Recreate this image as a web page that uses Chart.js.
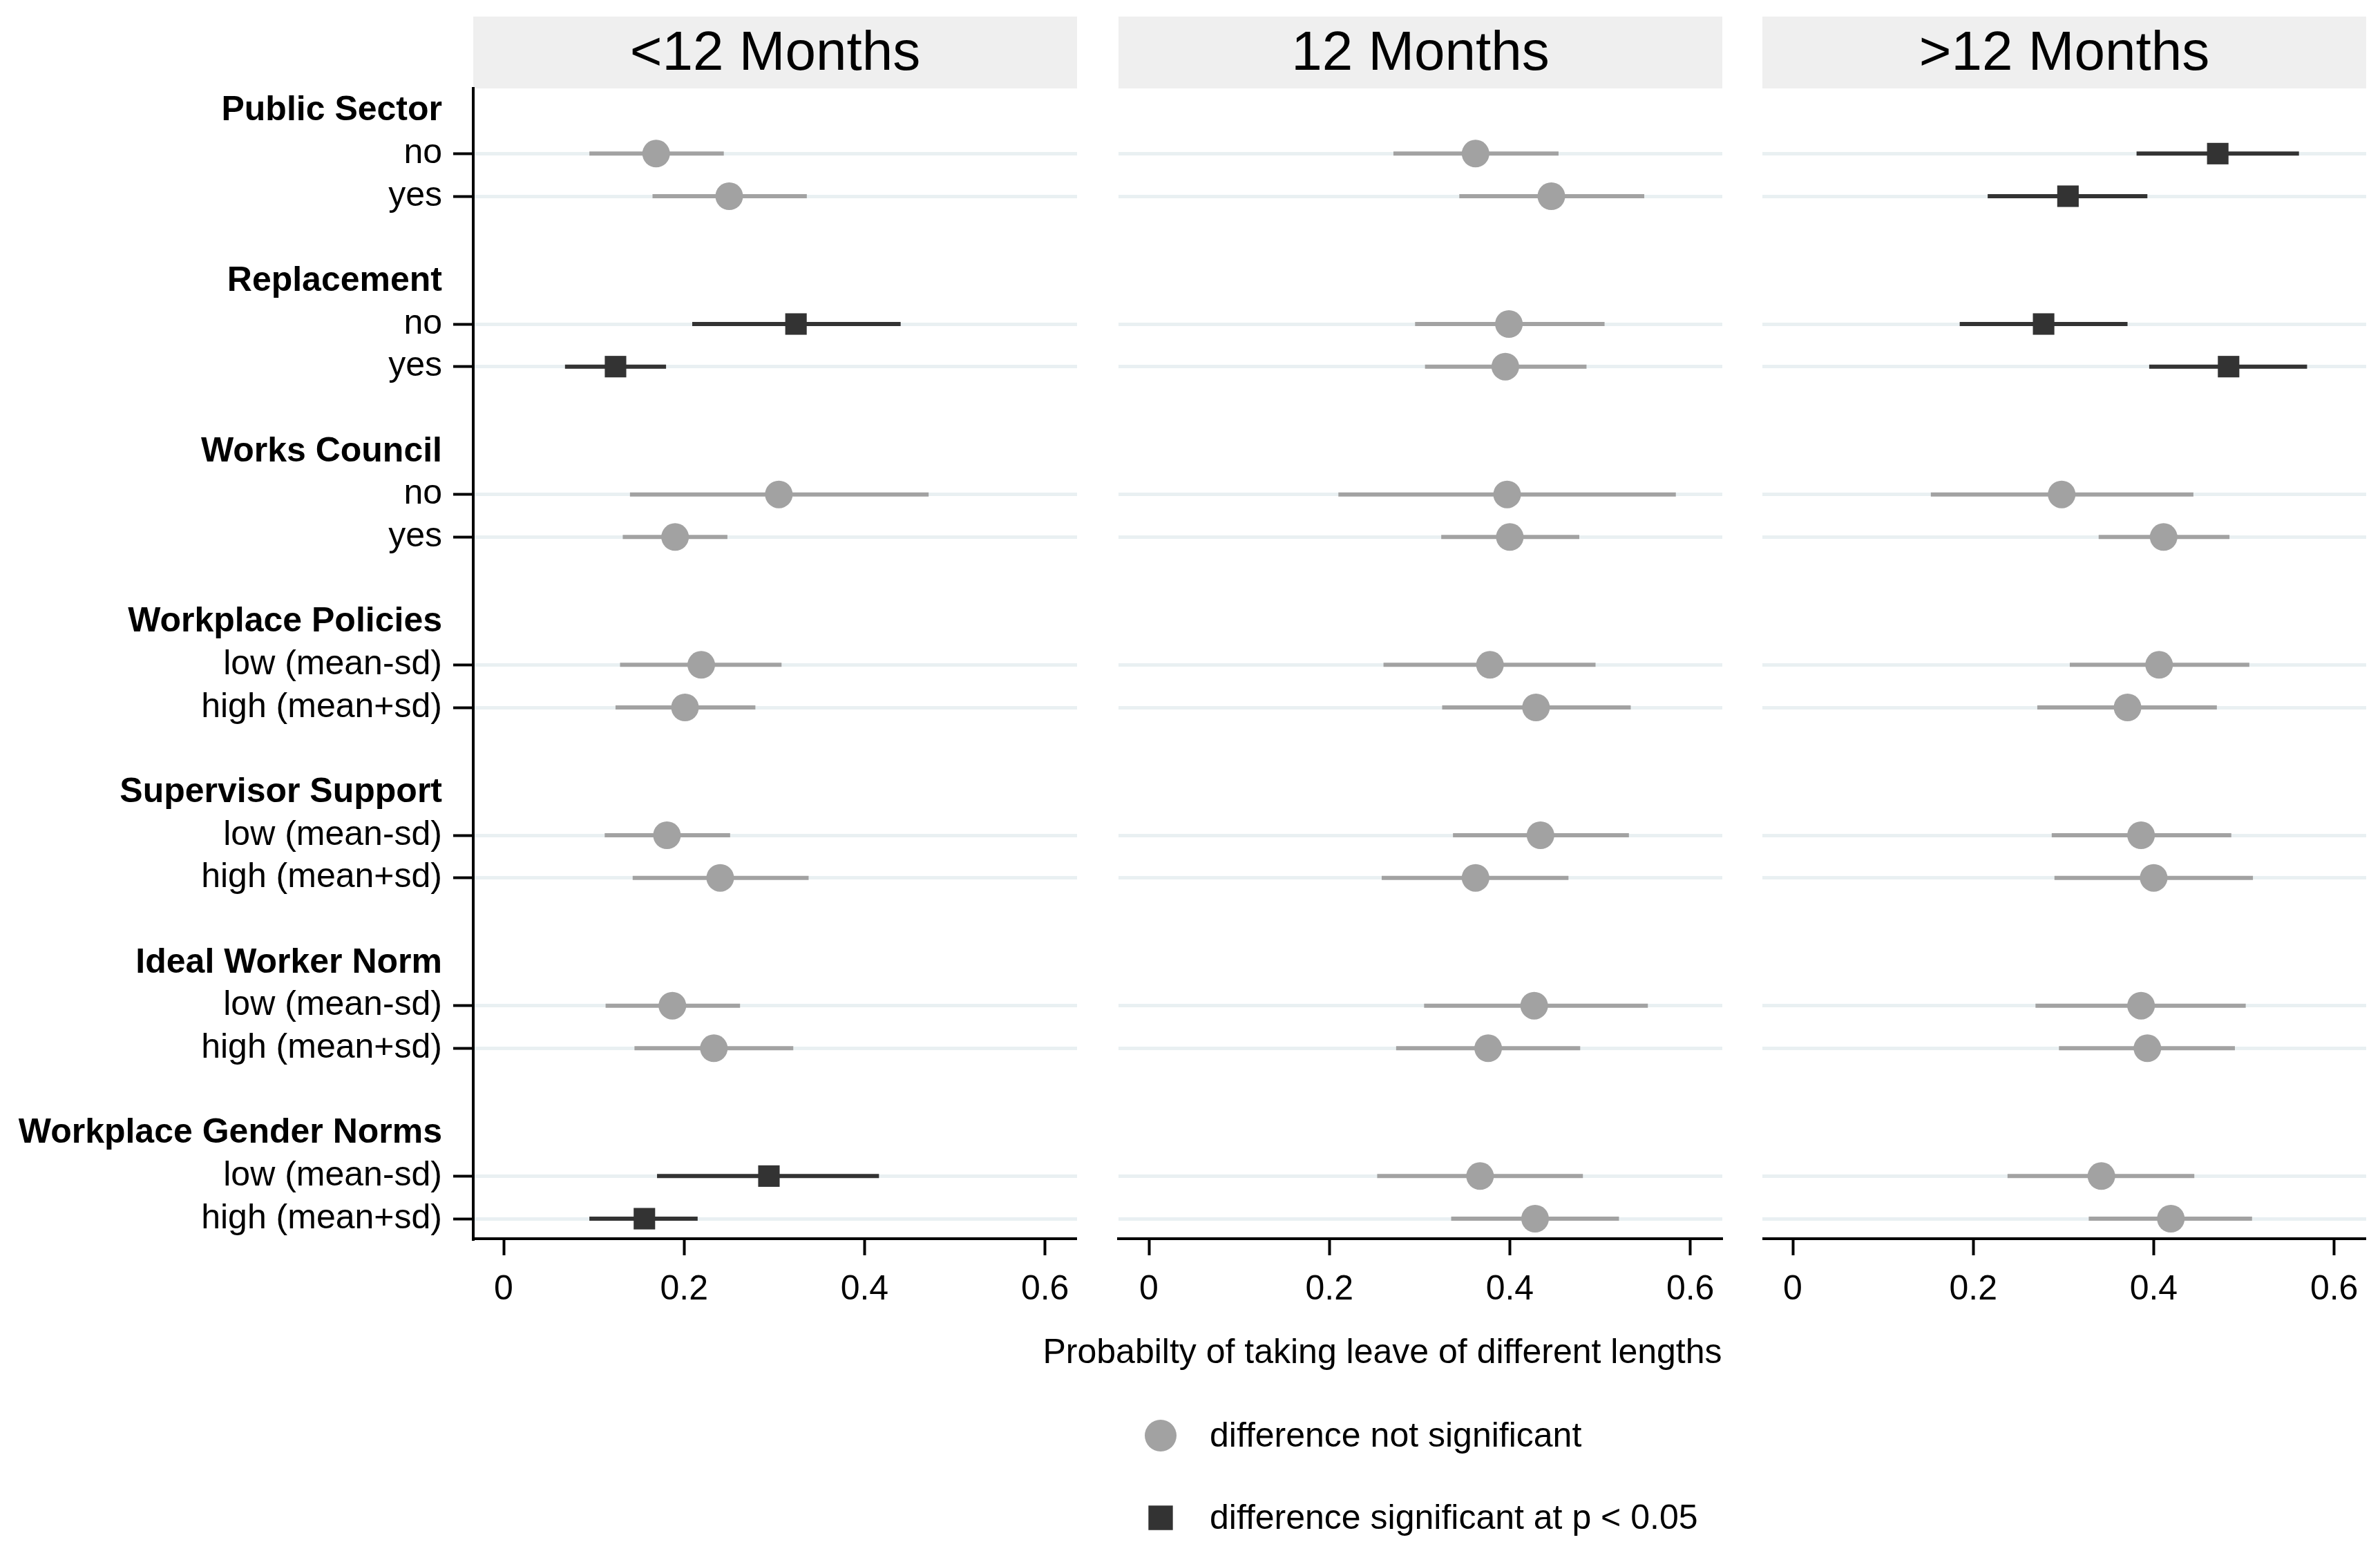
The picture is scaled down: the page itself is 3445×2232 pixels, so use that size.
<!DOCTYPE html>
<html>
<head>
<meta charset="utf-8">
<title>Probability of taking leave of different lengths</title>
<script src="https://cdn.jsdelivr.net/npm/chart.js@4.4.1/dist/chart.umd.min.js"></script>
<style>
  html, body { margin: 0; padding: 0; background: #fff; }
  #wrap { position: relative; width: 3445px; height: 2232px; overflow: hidden; }
  #wrap canvas { position: absolute; top: 0; }
</style>
</head>
<body>
<div id="wrap">
  <canvas id="panel0" width="1559" height="2232" style="left:0px"></canvas>
  <canvas id="panel1" width="1300" height="2232" style="left:1400px"></canvas>
  <canvas id="panel2" width="874" height="2232" style="left:2551px"></canvas>
</div>
<script>
// ---- data ----
const panelTitles = ['<12 Months', '12 Months', '>12 Months'];
const groupNames = ['Public Sector', 'Replacement', 'Works Council', 'Workplace Policies',
                    'Supervisor Support', 'Ideal Worker Norm', 'Workplace Gender Norms'];
const levelNames = [
  ['no', 'yes'], ['no', 'yes'], ['no', 'yes'],
  ['low (mean-sd)', 'high (mean+sd)'], ['low (mean-sd)', 'high (mean+sd)'],
  ['low (mean-sd)', 'high (mean+sd)'], ['low (mean-sd)', 'high (mean+sd)']
];
const xTicks = [0, 0.2, 0.4, 0.6];
const xTitle = 'Probabilty of taking leave of different lengths';
const legendLabels = ['difference not significant', 'difference significant at p < 0.05'];

// rows: PS no/yes, Repl no/yes, WC no/yes, WP low/high, SS low/high, IWN low/high, WGN low/high
const estShort = [0.169, 0.250, 0.324, 0.124, 0.305, 0.190, 0.219, 0.201, 0.181, 0.240, 0.187, 0.233, 0.294, 0.156];
const loShort  = [0.095, 0.165, 0.209, 0.068, 0.140, 0.132, 0.129, 0.124, 0.112, 0.143, 0.113, 0.145, 0.170, 0.095];
const hiShort  = [0.244, 0.336, 0.440, 0.180, 0.471, 0.248, 0.308, 0.279, 0.251, 0.338, 0.262, 0.321, 0.416, 0.215];
const sigShort = [0, 0, 1, 1, 0, 0, 0, 0, 0, 0, 0, 0, 1, 1];

const est12 = [0.362, 0.446, 0.399, 0.395, 0.397, 0.400, 0.378, 0.429, 0.434, 0.362, 0.427, 0.376, 0.367, 0.428];
const lo12  = [0.271, 0.344, 0.295, 0.306, 0.210, 0.324, 0.260, 0.325, 0.337, 0.258, 0.305, 0.274, 0.253, 0.335];
const hi12  = [0.454, 0.549, 0.505, 0.485, 0.584, 0.477, 0.495, 0.534, 0.532, 0.465, 0.553, 0.478, 0.481, 0.521];
const sig12 = [0, 0, 0, 0, 0, 0, 0, 0, 0, 0, 0, 0, 0, 0];

const estLong = [0.471, 0.305, 0.278, 0.483, 0.298, 0.411, 0.406, 0.371, 0.386, 0.400, 0.386, 0.393, 0.342, 0.419];
const loLong  = [0.381, 0.216, 0.185, 0.395, 0.153, 0.339, 0.307, 0.271, 0.287, 0.290, 0.269, 0.295, 0.238, 0.328];
const hiLong  = [0.561, 0.393, 0.371, 0.570, 0.444, 0.484, 0.506, 0.470, 0.486, 0.510, 0.502, 0.490, 0.445, 0.509];
const sigLong = [1, 1, 1, 1, 0, 0, 0, 0, 0, 0, 0, 0, 0, 0];

// ---- look ----
const FONT = "'Liberation Sans', Arial, sans-serif";
const GREY = '#a2a2a2';
const DARK = '#333333';
const GRID = '#e9f0f2';
const PLOT_BOTTOM = 1793; // where the x axis line sits

// each group takes 4 slots: header, level 1, level 2, blank
const rowSlot = i => Math.floor(i / 2) * 4 + 1 + (i % 2);
const isHeader = v => v % 4 === 0;
const ySlots = [];
for (let g = 0; g < groupNames.length; g++) ySlots.push(g * 4, g * 4 + 1, g * 4 + 2);

function slotLabel(v) {
  const g = Math.floor(v / 4);
  return isHeader(v) ? groupNames[g] : levelNames[g][v % 4 - 1];
}

function buildDatasets(est, lo, hi, sig) {
  const ci = [[], []];
  const pts = [[], []];
  est.forEach((v, i) => {
    const y = rowSlot(i);
    ci[sig[i]].push({ x: lo[i], y: y }, { x: hi[i], y: y }, { x: null, y: null });
    pts[sig[i]].push({ x: v, y: y });
  });
  return [
    { type: 'line', label: 'ci not significant', data: ci[0], borderColor: GREY, borderWidth: 6,
      pointRadius: 0, spanGaps: false, borderCapStyle: 'butt', order: 2 },
    { type: 'line', label: 'ci significant', data: ci[1], borderColor: DARK, borderWidth: 6,
      pointRadius: 0, spanGaps: false, borderCapStyle: 'butt', order: 2 },
    { type: 'scatter', label: legendLabels[0], data: pts[0], pointStyle: 'circle', pointRadius: 20,
      backgroundColor: GREY, borderWidth: 0, order: 0 },
    { type: 'scatter', label: legendLabels[1], data: pts[1], pointStyle: 'rect', pointRadius: 22,
      backgroundColor: DARK, borderWidth: 0, order: 0 }
  ];
}

// grey strip with the panel name above the plot area
const panelHeader = {
  id: 'panelHeader',
  beforeDraw(chart, args, opts) {
    const { ctx, chartArea } = chart;
    ctx.save();
    ctx.fillStyle = '#efefef';
    ctx.fillRect(chartArea.left, opts.top, chartArea.right - chartArea.left, opts.height);
    ctx.fillStyle = '#000';
    ctx.font = '80px ' + FONT;
    ctx.textAlign = 'center';
    ctx.textBaseline = 'middle';
    ctx.fillText(opts.text, (chartArea.left + chartArea.right) / 2, opts.top + opts.height / 2 + 3);
    ctx.restore();
  }
};

// common x title and the two-entry legend, only on the middle panel
const bottomNotes = {
  id: 'bottomNotes',
  afterDraw(chart, args, opts) {
    const ctx = chart.ctx;
    ctx.save();
    ctx.fillStyle = '#000';
    ctx.font = '50px ' + FONT;
    ctx.textAlign = 'center';
    ctx.textBaseline = 'middle';
    ctx.fillText(xTitle, opts.titleX, opts.titleY);
    ctx.textAlign = 'left';
    chart.data.datasets.filter(d => d.type === 'scatter').forEach((d, k) => {
      const y = opts.rowY[k];
      ctx.fillStyle = d.backgroundColor;
      Chart.helpers.drawPoint(ctx, { pointStyle: d.pointStyle, radius: k === 0 ? 23 : 25, rotation: 0, borderWidth: 0 },
        opts.markX, y);
      ctx.fillStyle = '#000';
      ctx.fillText(d.label, opts.textX, y + 2);
    });
    ctx.restore();
  }
};

function makePanel(id, idx, datasets, withLabels, padLeft, padRight) {
  const plugins = [panelHeader];
  if (idx === 1) plugins.push(bottomNotes);
  return new Chart(document.getElementById(id), {
    type: 'scatter',
    data: { datasets: datasets },
    plugins: plugins,
    options: {
      responsive: false,
      animation: false,
      devicePixelRatio: 1,
      events: [],
      layout: { autoPadding: false, padding: { top: 128, bottom: 0, left: padLeft, right: padRight } },
      plugins: {
        legend: { display: false },
        tooltip: { enabled: false },
        panelHeader: { text: panelTitles[idx], top: 24, height: 104 },
        bottomNotes: { titleX: 601, titleY: 1959, markX: 280, textX: 351, rowY: [2078, 2197] }
      },
      scales: {
        x: {
          type: 'linear',
          min: -0.0337,
          max: 0.6355,
          afterBuildTicks: s => { s.ticks = xTicks.map(v => ({ value: v })); },
          afterFit: s => { s.paddingLeft = 0; s.paddingRight = 0; },
          ticks: {
            color: '#000',
            padding: 20,
            font: { family: FONT, size: 50 },
            maxRotation: 0,
            callback: v => String(Math.round(v * 10) / 10)
          },
          grid: { drawOnChartArea: false, drawTicks: true, tickLength: 24, tickColor: '#000', tickWidth: 4 },
          border: { display: true, color: '#000', width: 4 }
        },
        y: {
          type: 'linear',
          reverse: true,
          min: -0.53,
          max: 26.47,
          afterBuildTicks: s => { s.ticks = ySlots.map(v => ({ value: v })); },
          afterFit: s => { s.width = withLabels ? 685 : 0; s.paddingTop = 0; s.paddingBottom = 0; },
          ticks: {
            display: withLabels,
            color: '#000',
            padding: 16,
            autoSkip: false,
            font: c => ({ family: FONT, size: 50, weight: c.tick && isHeader(c.tick.value) ? 'bold' : 'normal' }),
            callback: v => slotLabel(v)
          },
          grid: {
            drawOnChartArea: true,
            lineWidth: 5,
            color: c => (c.tick && isHeader(c.tick.value) ? 'rgba(0,0,0,0)' : GRID),
            drawTicks: withLabels,
            tickLength: withLabels ? 29 : 0,
            tickWidth: 4,
            tickColor: c => (c.tick && isHeader(c.tick.value) ? 'rgba(0,0,0,0)' : '#000')
          },
          border: { display: withLabels, color: '#000', width: 4 }
        }
      }
    }
  });
}

const charts = [
  makePanel('panel0', 0, buildDatasets(estShort, loShort, hiShort, sigShort), true, 0, 0),
  makePanel('panel1', 1, buildDatasets(est12, lo12, hi12, sig12), false, 219, 207),
  makePanel('panel2', 2, buildDatasets(estLong, loLong, hiLong, sigLong), false, 0, 0)
];

// push every x axis to the same height
charts.forEach(ch => {
  for (let k = 0; k < 3; k++) {
    const d = ch.chartArea.bottom - PLOT_BOTTOM;
    if (Math.abs(d) < 0.5) break;
    ch.options.layout.padding.bottom += d;
    ch.update('none');
  }
});
</script>
</body>
</html>
